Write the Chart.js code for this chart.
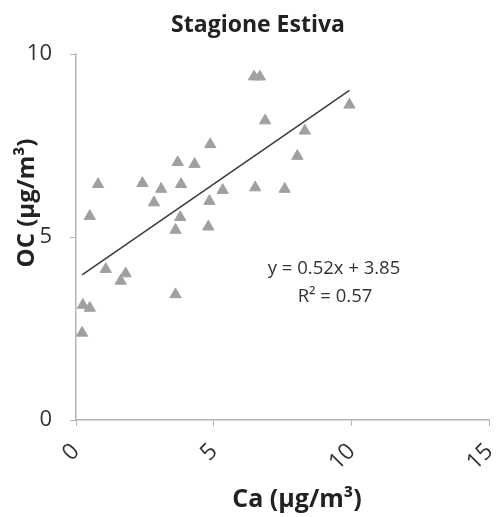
<!DOCTYPE html>
<html>
<head>
<meta charset="utf-8">
<script src="https://cdn.jsdelivr.net/npm/chart.js@4.4.1/dist/chart.umd.min.js"></script>
<style>
    body { margin: 0; background: #fff; }
    #chart-container { width: 497px; height: 517px; position: relative; }
</style>
</head>
<body>
<div id="chart-container"><canvas id="scatterChart"></canvas></div>
<script>
// Ca vs OC, summer season (µg/m³)
const caValues = [0.22, 0.25, 0.50, 0.50, 0.80, 1.08, 1.80, 1.62, 2.41, 2.83,
                  3.09, 3.69, 3.81, 3.78, 3.61, 3.61, 4.30, 4.87, 4.84, 4.80,
                  5.32, 6.46, 6.67, 6.86, 6.50, 7.57, 8.03, 8.30, 9.92];
const ocValues = [2.38, 3.14, 3.06, 5.57, 6.44, 4.12, 4.00, 3.80, 6.47, 5.94,
                  6.31, 7.04, 6.44, 5.54, 5.19, 3.43, 6.99, 7.53, 5.98, 5.28,
                  6.28, 9.38, 9.38, 8.18, 6.35, 6.31, 7.21, 7.90, 8.61];
const xTicks = [0, 5, 10, 15];
const yTicks = [0, 5, 10];
const slope = 0.52;
const intercept = 3.85;
const rSquared = 0.57;

const FONT = "'Open Sans', 'DejaVu Sans', sans-serif";
const TEXT_COLOR = "#333";
const AXIS_COLOR = "#b4b4b4";

const points = caValues.map((x, i) => ({ x: x, y: ocValues[i] }));
const xMin = Math.min(...caValues);
const xMax = Math.max(...caValues);
const trendLine = [
    { x: xMin, y: slope * xMin + intercept },
    { x: xMax, y: slope * xMax + intercept }
];

// titles and equation are placed like the Excel original, not centred by Chart.js
const textPlugin = {
    id: "textPlugin",
    afterDraw(chart) {
        let ctx = chart.ctx;
        ctx.save();
        ctx.fillStyle = "#222";
        ctx.textAlign = "center";
        ctx.textBaseline = "middle";

        ctx.font = "bold 23px " + FONT;
        ctx.fillText("Stagione Estiva", 258, 25);

        ctx.font = "bold 25px " + FONT;
        ctx.fillText("Ca (µg/m³)", 297, 500);

        ctx.font = "bold 24px " + FONT;
        ctx.save();
        ctx.translate(27, 203);
        ctx.rotate(-Math.PI / 2);
        ctx.fillText("OC (µg/m³)", 0, 0);
        ctx.restore();

        ctx.fillStyle = TEXT_COLOR;
        ctx.font = "18.5px " + FONT;
        ctx.fillText(`y = ${slope.toFixed(2)}x + ${intercept.toFixed(2)}`, 334, 269);
        ctx.fillText(`R² = ${rSquared.toFixed(2)}`, 335, 297);
        ctx.restore();
    }
};

let ctx = document.getElementById("scatterChart").getContext("2d");
new Chart(ctx, {
    type: "scatter",
    data: {
        datasets: [
            {
                label: "OC",
                data: points,
                pointStyle: "triangle",
                pointRadius: 6.5,
                pointBackgroundColor: "#a0a0a0",
                pointBorderColor: "#a0a0a0",
                pointBorderWidth: 1,
                order: 2
            },
            {
                label: "Trend",
                type: "line",
                data: trendLine,
                borderColor: "#3a3a3a",
                borderWidth: 1.5,
                pointRadius: 0,
                fill: false,
                order: 1
            }
        ]
    },
    options: {
        responsive: true,
        maintainAspectRatio: false,
        animation: false,
        layout: { padding: { top: 54, right: 5, left: 0, bottom: 0 } },
        plugins: {
            legend: { display: false },
            title: { display: false },
            tooltip: { enabled: false }
        },
        scales: {
            x: {
                type: "linear",
                min: 0,
                max: 15,
                afterBuildTicks: (scale) => { scale.ticks = xTicks.map(v => ({ value: v })); },
                afterFit: (scale) => {
                    scale.height = 97;
                    scale.paddingLeft = 0;
                    scale.paddingRight = 0;
                },
                grid: { display: true, drawOnChartArea: false, color: AXIS_COLOR, tickLength: 6 },
                border: { display: true, color: AXIS_COLOR, width: 1.5 },
                ticks: {
                    minRotation: 45,
                    maxRotation: 45,
                    padding: 12,
                    color: TEXT_COLOR,
                    font: { family: FONT, size: 23 }
                }
            },
            y: {
                type: "linear",
                min: 0,
                max: 10,
                afterBuildTicks: (scale) => { scale.ticks = yTicks.map(v => ({ value: v })); },
                afterFit: (scale) => {
                    scale.width = 76;
                    scale.paddingTop = 0;
                    scale.paddingBottom = 0;
                },
                grid: { display: true, drawOnChartArea: false, color: AXIS_COLOR, tickLength: 6 },
                border: { display: true, color: AXIS_COLOR, width: 1.5 },
                ticks: {
                    padding: 18,
                    color: TEXT_COLOR,
                    font: { family: FONT, size: 22 }
                }
            }
        }
    },
    plugins: [textPlugin]
});
</script>
</body>
</html>
